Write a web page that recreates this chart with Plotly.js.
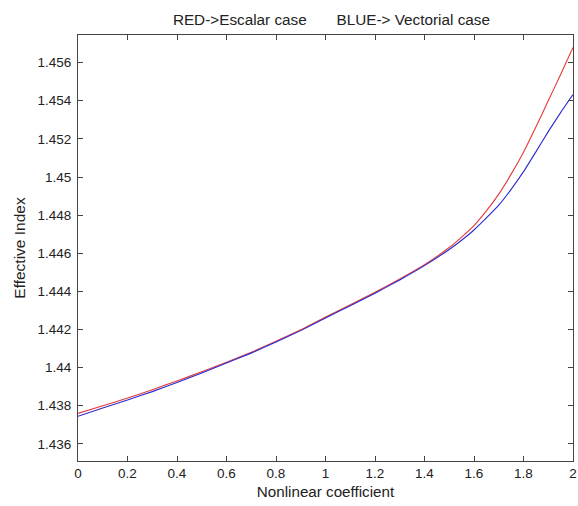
<!DOCTYPE html>
<html>
<head>
<meta charset="utf-8">
<script src="https://cdn.plot.ly/plotly-3.0.1.min.js"></script>
<style>
  html, body { margin: 0; padding: 0; background: #fff; }
  #chart { width: 578px; height: 506px; }
</style>
</head>
<body>
<div id="chart"></div>
<script>
// Nonlinear coefficient samples
const coefficient = [0.0, 0.1, 0.2, 0.3, 0.4, 0.5, 0.6, 0.7, 0.8, 0.9, 1.0,
                     1.1, 1.2, 1.3, 1.4, 1.5, 1.55, 1.6, 1.65, 1.7, 1.75, 1.8,
                     1.85, 1.9, 1.95, 2.0];

// Effective index, scalar model (red)
const scalarIndex = [1.43760, 1.43800, 1.43840, 1.43884, 1.43930, 1.43978, 1.44028,
                     1.44080, 1.44138, 1.44198, 1.44265, 1.44330, 1.44395, 1.44465,
                     1.44540, 1.44630, 1.44685, 1.44745, 1.44822, 1.44910, 1.45015,
                     1.45130, 1.45262, 1.45400, 1.45538, 1.45680];

// Effective index, vectorial model (blue)
const vectorialIndex = [1.43745, 1.43788, 1.43830, 1.43874, 1.43922, 1.43972, 1.44024,
                        1.44076, 1.44134, 1.44194, 1.44260, 1.44325, 1.44390, 1.44460,
                        1.44535, 1.44620, 1.44668, 1.44722, 1.44785, 1.44852, 1.44935,
                        1.45028, 1.45132, 1.45238, 1.45338, 1.45432];

const xTickVals = [0, 0.2, 0.4, 0.6, 0.8, 1, 1.2, 1.4, 1.6, 1.8, 2];
const xTickText = ["0", "0.2", "0.4", "0.6", "0.8", "1", "1.2", "1.4", "1.6", "1.8", "2"];
const yTickVals = [1.436, 1.438, 1.440, 1.442, 1.444, 1.446, 1.448, 1.450, 1.452, 1.454, 1.456];
const yTickText = ["1.436", "1.438", "1.44", "1.442", "1.444", "1.446", "1.448", "1.45", "1.452", "1.454", "1.456"];

const FONT = "Liberation Sans, Arial, Helvetica, sans-serif";

const traces = [
  {
    x: coefficient, y: scalarIndex, type: "scatter", mode: "lines",
    line: { color: "#e23a3a", width: 1.1, shape: "spline", smoothing: 0.4 },
    hoverinfo: "skip"
  },
  {
    x: coefficient, y: vectorialIndex, type: "scatter", mode: "lines",
    line: { color: "#2a2ad0", width: 1.1, shape: "spline", smoothing: 0.4 },
    hoverinfo: "skip"
  }
];

const axisCommon = {
  showline: true, linecolor: "#444", linewidth: 1,
  mirror: "ticks", ticks: "inside", ticklen: 5, tickwidth: 1, tickcolor: "#444",
  showgrid: false, zeroline: false,
  tickfont: { family: FONT, size: 13.5, color: "#222" },
  fixedrange: true
};

const layout = {
  width: 578, height: 506,
  margin: { l: 78, r: 5, t: 35, b: 45, pad: 0 },
  paper_bgcolor: "#fff", plot_bgcolor: "#fff",
  showlegend: false,
  font: { family: FONT, color: "#222" },
  title: {
    text: "RED->Escalar case       BLUE-> Vectorial case",
    font: { family: FONT, size: 15.3, color: "#222" },
    xref: "paper", x: 0.512, xanchor: "center",
    yref: "container", y: 0.962, yanchor: "middle"
  },
  xaxis: Object.assign({}, axisCommon, {
    range: [0, 2],
    tickmode: "array", tickvals: xTickVals, ticktext: xTickText,
    ticklabelstandoff: 0,
    title: { text: "Nonlinear coefficient", font: { family: FONT, size: 15.2, color: "#222" }, standoff: 6 }
  }),
  yaxis: Object.assign({}, axisCommon, {
    range: [1.4351, 1.45745],
    tickmode: "array", tickvals: yTickVals, ticktext: yTickText,
    ticklabelstandoff: 3,
    title: { text: "Effective Index", font: { family: FONT, size: 15.5, color: "#222" }, standoff: 8 }
  })
};

Plotly.newPlot("chart", traces, layout, { staticPlot: true, displayModeBar: false });
</script>
</body>
</html>
